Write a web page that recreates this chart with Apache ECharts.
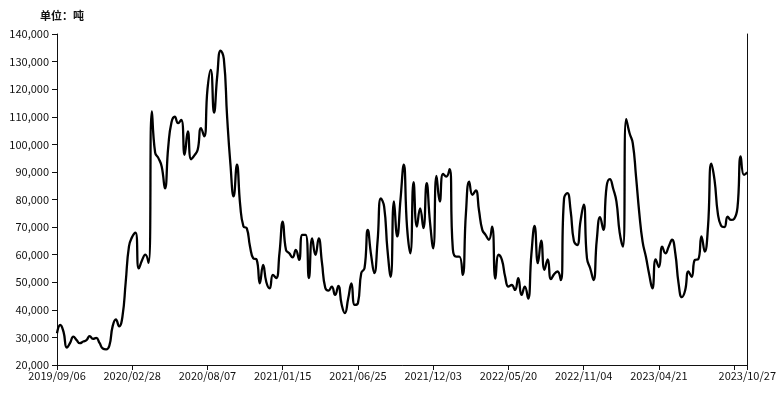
<!DOCTYPE html>
<html>
<head>
<meta charset="utf-8">
<script src="https://cdn.jsdelivr.net/npm/echarts@6/dist/echarts.min.js"></script>
<style>
  html, body { margin: 0; padding: 0; background: #fff; }
  #chart { width: 779px; height: 394px; }
</style>
</head>
<body>
<div id="chart"></div>
<script>
// weekly dates, holiday weeks missing from the source
const startDate = '2019/09/06';
const endDate = '2023/10/27';
const skipDates = ['2019/10/04', '2020/01/31', '2022/02/04', '2022/10/07', '2023/01/27'];

// 单位：吨
const values = [
  31500, 34500, 32000, 26300, 28000, 30300, 29000, 27900, 28500, 29000,
  30500, 29500, 29800, 28000, 26000, 25700, 27000, 34000, 36500, 34000,
  37500, 50000, 63000, 66500, 68000, 55000, 58000, 60000, 57000, 111900,
  97000, 95000, 92000, 84000, 99000, 108000, 110000, 107700, 108900, 96200,
  104700, 94600, 96000, 98000, 105900, 102900, 120000, 127000, 111500, 125000,
  134000, 131000, 110000, 93000, 81100, 92600, 78000, 70200, 69600, 63000,
  58700, 58300, 49600, 56300, 50000, 47800, 52700, 51500, 60500, 72000,
  61700, 60500, 59000, 61700, 58100, 67200, 67200, 51500, 65900, 59900,
  65900, 57000, 48000, 47000, 48400, 45400, 48700, 42000, 38800, 44000,
  49600, 41800, 42500, 53300, 55100, 69000, 60000, 53300, 65000, 80400,
  77400, 62000, 52000, 79300, 66600, 80000, 92600, 70000, 60500, 86300,
  70200, 76800, 69600, 85900, 72000, 62300, 88600, 79300, 89300, 88300,
  91000, 62000, 59300, 59300, 52700, 75000, 86500, 81700, 83300, 76000,
  69000, 67200, 65400, 70200, 51300, 60000, 58100, 52000, 48400, 49000,
  47200, 51500, 45400, 48400, 44100, 60000, 70400, 56900, 65100, 54500,
  58300, 51100, 53000, 53900, 50800, 80400, 82300, 76000, 65000, 63500,
  72000, 78100, 58700, 55000, 50800, 65400, 73600, 69000, 84700, 87400,
  84000, 79300, 68000, 62900, 109100, 104100, 100400, 88300, 75000, 64700,
  59300, 53000, 47800, 58300, 55500, 62900, 60500, 63000, 65400, 60500,
  49600, 44600, 47000, 53900, 52000, 58100, 58300, 66600, 61100, 70200,
  93000, 87000, 75000, 70500, 70000, 73800, 72600, 73000, 77000, 95600,
  88900, 89800
];

function pad(n) { return n < 10 ? '0' + n : '' + n; }
function fmt(d) {
  return d.getUTCFullYear() + '/' + pad(d.getUTCMonth() + 1) + '/' + pad(d.getUTCDate());
}
function parse(s) {
  const p = s.split('/').map(Number);
  return new Date(Date.UTC(p[0], p[1] - 1, p[2]));
}

const dates = [];
for (let d = parse(startDate); d <= parse(endDate); d = new Date(d.getTime() + 7 * 86400000)) {
  const s = fmt(d);
  if (skipDates.indexOf(s) < 0) dates.push(s);
}

const last = dates.length - 1;
const step = 23;

const chart = echarts.init(document.getElementById('chart'));

chart.setOption({
  backgroundColor: '#fff',
  animation: false,
  title: {
    text: '单位：吨',
    left: 35,
    top: 5,
    textStyle: { fontSize: 11, fontWeight: 'bold', color: '#111', fontFamily: 'Noto Sans CJK SC' },
  },
  grid: { left: 57, right: 31, top: 34, bottom: 29 },
  xAxis: {
    type: 'category',
    boundaryGap: false,
    data: dates,
    axisLine: { lineStyle: { color: '#111', width: 1 } },
    axisTick: {
      length: 5,
      lineStyle: { color: '#111' },
      interval: (i) => i % step === 0 || i === last,
    },
    axisLabel: {
      color: '#111',
      fontSize: 11,
      fontFamily: 'Noto Sans CJK SC',
      margin: 5,
      showMaxLabel: true,
      interval: (i) => (i % step === 0 && last - i > 10) || i === last,
    },
    splitLine: { show: false },
  },
  yAxis: [
    {
      type: 'value',
      min: 20000,
      max: 140000,
      interval: 10000,
      axisLine: { show: true, lineStyle: { color: '#111', width: 1 } },
      axisTick: { show: true, length: 5, lineStyle: { color: '#111' } },
      axisLabel: {
        color: '#111',
        fontSize: 11,
        fontFamily: 'Noto Sans CJK SC',
        margin: 8,
        formatter: (v) => v.toLocaleString('en-US'),
      },
      splitLine: { show: false },
    },
    {
      type: 'value',
      min: 20000,
      max: 140000,
      interval: 10000,
      position: 'right',
      axisLine: { show: true, lineStyle: { color: '#111', width: 1 } },
      axisTick: { show: false },
      axisLabel: { show: false },
      splitLine: { show: false },
    },
  ],
  series: [
    {
      type: 'line',
      data: values,
      smooth: 0.5,
      symbol: 'none',
      lineStyle: { color: '#000', width: 2.3 },
    },
  ],
});
</script>
</body>
</html>
